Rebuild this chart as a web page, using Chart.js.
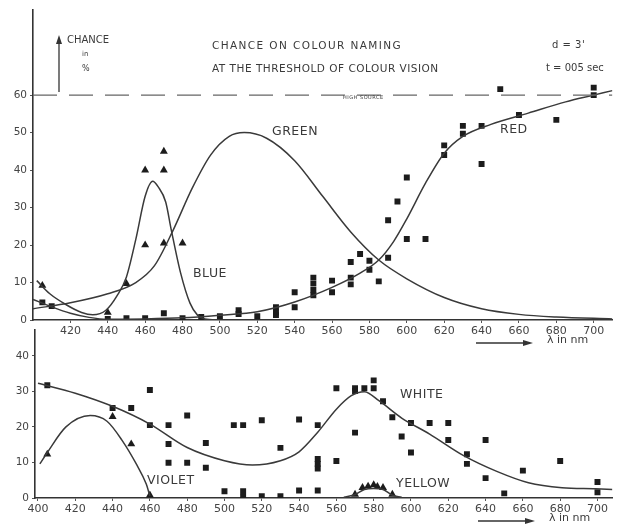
<!DOCTYPE html>
<html>
<head>
<meta charset="utf-8">
<script src="https://cdn.jsdelivr.net/npm/chart.js@4.4.1/dist/chart.umd.min.js"></script>
<style>
  body { margin: 0; background: #fff; }
  #wrap { position: relative; width: 617px; height: 527px; overflow: hidden; background: #fff; }
  canvas { position: absolute; left: 0; }
  #topChart { top: 0; }
  #bottomChart { top: 320px; }
  .t { position: absolute; font-family: "DejaVu Sans", sans-serif; color: #3a3a3a; white-space: nowrap; line-height: 1; }
  .title { font-size: 10.5px; }
  .lab { font-size: 12.5px; letter-spacing: 0.5px; }
  svg { position: absolute; left: 0; top: 0; pointer-events: none; }
</style>
</head>
<body>
<div id="wrap">
  <canvas id="topChart" width="617" height="345"></canvas>
  <canvas id="bottomChart" width="617" height="207"></canvas>

  <div class="t title" style="left:212px;top:40px;letter-spacing:1.4px">CHANCE ON COLOUR NAMING</div>
  <div class="t title" style="left:212px;top:63px;letter-spacing:0.5px">AT THE THRESHOLD OF COLOUR VISION</div>
  <div class="t title" style="left:552px;top:40px;font-size:10px;letter-spacing:0.5px">d = 3'</div>
  <div class="t title" style="left:546px;top:63px;font-size:10px;letter-spacing:0">t = 005 sec</div>
  <div class="t" style="left:67px;top:35px;font-size:10px">CHANCE</div>
  <div class="t" style="left:82px;top:51px;font-size:7px">in</div>
  <div class="t" style="left:82px;top:65px;font-size:8px">%</div>
  <div class="t" style="left:343px;top:95px;font-size:5px;letter-spacing:0.5px">HIGH SOURCE</div>

  <div class="t lab" style="left:272px;top:125px">GREEN</div>
  <div class="t lab" style="left:500px;top:123px">RED</div>
  <div class="t lab" style="left:193px;top:267px">BLUE</div>
  <div class="t lab" style="left:400px;top:388px">WHITE</div>
  <div class="t lab" style="left:147px;top:474px">VIOLET</div>
  <div class="t lab" style="left:396px;top:477px">YELLOW</div>

  <div class="t" style="left:547px;top:334px;font-size:11px">λ in nm</div>
  <div class="t" style="left:549px;top:512px;font-size:11px">λ in nm</div>

  <svg width="617" height="527">
    <g stroke="#333" stroke-width="1.3" fill="#333">
      <line x1="59" y1="92" x2="59" y2="41"/>
      <polygon points="56,44 62,44 59,35" stroke="none"/>
      <line x1="476" y1="343" x2="526" y2="343"/>
      <polygon points="523,340 533,343 523,346" stroke="none"/>
      <line x1="478" y1="521" x2="528" y2="521"/>
      <polygon points="525,518 535,521 525,524" stroke="none"/>
    </g>
  </svg>
</div>

<script>
// ================= DATA: upper panel =================
const topXTicks = [420, 440, 460, 480, 500, 520, 540, 560, 580, 600, 620, 640, 660, 680, 700];
const topYTicks = [0, 10, 20, 30, 40, 50, 60];

const blueCurveX = [402, 409, 418, 426, 432, 439, 445, 450, 455, 460, 464, 467, 471, 474, 479, 484, 488, 492, 500];
const blueCurveY = [10.5, 7, 4, 2, 1.4, 2.6, 6.5, 11.5, 21.5, 33, 37, 35.5, 31.5, 24, 12.5, 4.5, 1.3, 0.3, 0];

const greenCurveX = [400, 420, 440, 455, 465, 475, 485, 495, 505, 513, 525, 540, 555, 570, 585, 600, 620, 640, 660, 680, 710];
const greenCurveY = [3, 4.6, 7, 10, 14.5, 24, 35, 44, 49, 50, 48.5, 42.5, 33, 23.5, 16, 11, 6, 3, 1.5, 0.8, 0.3];

const redCurveX = [400, 410, 420, 430, 440, 460, 480, 500, 520, 540, 560, 575, 585, 593, 600, 610, 620, 630, 645, 665, 685, 700, 710];
const redCurveY = [5.5, 3.5, 1.8, 0.7, 0.2, 0.3, 0.6, 1.3, 2.2, 4.8, 8.7, 12.5, 16, 21, 27, 36.5, 44.5, 49, 52.2, 55.2, 58.2, 60, 61.2];

const highSourceX = [400, 710];
const highSourceY = [60, 60];

const redPointsX = [650, 700, 700, 660, 680, 630, 630, 640, 640, 620, 620, 600, 595, 590, 600, 610, 590, 575, 570, 580, 580, 585, 570, 570, 560, 560, 550, 550, 550, 550, 540, 540, 530, 530, 530, 520, 510, 510, 500, 490, 480, 470, 460, 450, 440, 405, 410];
const redPointsY = [61.6, 62, 60, 54.7, 53.4, 51.8, 49.7, 51.8, 41.6, 46.6, 44, 38, 31.6, 26.6, 21.6, 21.6, 16.6, 17.6, 15.5, 15.8, 13.4, 10.3, 11.3, 9.5, 10.5, 7.4, 11.3, 9.7, 8, 6.6, 7.4, 3.4, 3.4, 2, 1.3, 1, 2.6, 1.6, 1, 0.8, 0.5, 1.8, 0.5, 0.5, 0.3, 4.7, 3.7];

const bluePointsX = [405, 440, 450, 460, 460, 470, 470, 470, 480];
const bluePointsY = [9.2, 2, 9.7, 40, 20, 45, 40, 20.5, 20.5];

// ================= DATA: lower panel =================
const botXTicks = [400, 420, 440, 460, 480, 500, 520, 540, 560, 580, 600, 620, 640, 660, 680, 700];
const botYTicks = [0, 10, 20, 30, 40];

const whiteCurveX = [400, 420, 440, 460, 480, 500, 515, 530, 540, 550, 560, 568, 575, 583, 595, 610, 628, 646, 663, 681, 699, 708];
const whiteCurveY = [32.3, 29.5, 25.8, 20.8, 14.2, 10.5, 9.3, 10.5, 13, 18.5, 25, 28.8, 29.9, 27.3, 22.5, 18, 12, 7.5, 4.3, 2.9, 2.6, 2.4];

const violetCurveX = [401, 405, 415, 428, 437, 445, 453, 458, 460];
const violetCurveY = [9.6, 12.8, 20, 23.2, 21.6, 16.3, 9.3, 4, 0.6];

const yellowCurveX = [564, 570, 575, 580, 585, 590, 595];
const yellowCurveY = [0.2, 1, 2.4, 2.7, 2.4, 0.8, 0.2];

const whitePointsX = [405, 440, 450, 460, 460, 470, 470, 470, 480, 480, 490, 490, 500, 505, 510, 510, 510, 520, 520, 530, 530, 540, 540, 550, 550, 550, 550, 550, 560, 560, 570, 570, 570, 575, 580, 580, 585, 590, 595, 600, 600, 610, 620, 620, 630, 630, 640, 640, 650, 660, 680, 700, 700];
const whitePointsY = [31.7, 25.3, 25.3, 30.4, 20.5, 20.5, 15.2, 9.9, 23.2, 9.9, 15.5, 8.5, 1.9, 20.5, 20.5, 1.9, 0.3, 21.9, 0.5, 14.1, 0.5, 22.1, 2.1, 20.5, 11, 9.6, 8.3, 2.1, 30.9, 10.4, 30.9, 30.1, 18.4, 30.9, 33.1, 30.9, 27.2, 22.7, 17.3, 21.1, 12.8, 21.1, 21.1, 16.3, 12.3, 9.6, 16.3, 5.6, 1.3, 7.7, 10.4, 4.5, 1.6];

const violetPointsX = [405, 440, 450, 460];
const violetPointsY = [12.3, 22.9, 15.2, 0.8];

const yellowPointsX = [570, 574, 577, 580, 582, 585, 590];
const yellowPointsY = [1, 2.9, 3.3, 3.7, 3.2, 2.9, 1];

// ================= HELPERS =================
const INK = "#333";
const zip = (xs, ys) => xs.map((x, i) => ({ x: x, y: ys[i] }));

function curve(xs, ys) {
    return {
        data: zip(xs, ys),
        showLine: true,
        borderColor: "#3a3a3a",
        borderWidth: 1.5,
        pointRadius: 0,
        cubicInterpolationMode: "monotone",
        fill: false
    };
}

function marks(xs, ys, style) {
    return {
        data: zip(xs, ys),
        showLine: false,
        pointStyle: style,
        pointRadius: style === "rect" ? 4.2 : 4.6,
        backgroundColor: "#1c1c1c",
        borderColor: "#1c1c1c",
        borderWidth: 0
    };
}

function axes(xMin, xMax, xTicks, yMax, yTicks, yWidth, xHeight) {
    const tickFont = { family: "DejaVu Sans", size: 11 };
    return {
        x: {
            type: "linear", min: xMin, max: xMax,
            afterBuildTicks: s => { s.ticks = xTicks.map(v => ({ value: v })); },
            afterFit: s => { s.height = xHeight; },
            ticks: { color: "#444", font: tickFont, padding: 2, maxRotation: 0, autoSkip: false },
            grid: { display: true, drawOnChartArea: false, tickLength: 3, color: "#555", lineWidth: 1 },
            border: { display: true, color: INK, width: 1.6 }
        },
        y: {
            type: "linear", min: 0, max: yMax,
            afterBuildTicks: s => { s.ticks = yTicks.map(v => ({ value: v })); },
            afterFit: s => { s.width = yWidth; },
            ticks: { color: "#444", font: { family: "DejaVu Sans", size: 10.5 }, padding: 3 },
            grid: { display: true, drawOnChartArea: false, tickLength: 3, color: "#555", lineWidth: 1 },
            border: { display: true, color: INK, width: 1.6 }
        }
    };
}

const common = {
    responsive: false,
    animation: false,
    plugins: { legend: { display: false }, tooltip: { enabled: false } }
};

// ================= GRAFIK ATAS =================
const dashed = curve(highSourceX, highSourceY);
dashed.borderDash = [24, 12];
dashed.borderColor = "#666";
dashed.borderWidth = 1.2;
dashed.cubicInterpolationMode = "default";

new Chart(document.getElementById("topChart"), {
    type: "scatter",
    data: {
        datasets: [
            dashed,
            curve(blueCurveX, blueCurveY),
            curve(greenCurveX, greenCurveY),
            curve(redCurveX, redCurveY),
            marks(redPointsX, redPointsY, "rect"),
            marks(bluePointsX, bluePointsY, "triangle")
        ]
    },
    options: Object.assign({}, common, {
        layout: { padding: { top: 5, left: 0, right: 0, bottom: 0 } },
        scales: axes(400, 710, topXTicks, 82.9, topYTicks, 33, 25)
    })
});

// ================= GRAFIK BAWAH =================
new Chart(document.getElementById("bottomChart"), {
    type: "scatter",
    data: {
        datasets: [
            curve(whiteCurveX, whiteCurveY),
            curve(violetCurveX, violetCurveY),
            curve(yellowCurveX, yellowCurveY),
            marks(whitePointsX, whitePointsY, "rect"),
            marks(violetPointsX, violetPointsY, "triangle"),
            marks(yellowPointsX, yellowPointsY, "triangle")
        ]
    },
    options: Object.assign({}, common, {
        layout: { padding: { top: 0, left: 0, right: 0, bottom: 0 } },
        scales: axes(398.4, 708, botXTicks, 47.47, botYTicks, 35, 29)
    })
});
</script>
</body>
</html>
